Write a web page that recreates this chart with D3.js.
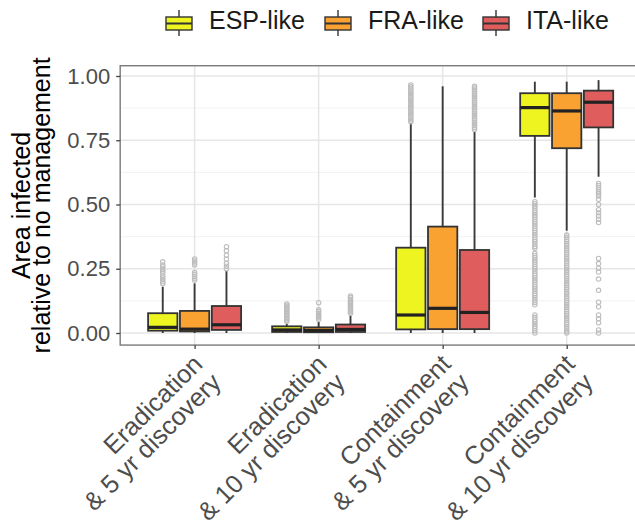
<!DOCTYPE html>
<html><head><meta charset="utf-8">
<script src="https://cdn.jsdelivr.net/npm/d3@7"></script>
<style>body{margin:0;background:#fff} text{font-family:"Liberation Sans",Arial,sans-serif}</style>
</head><body><svg id="c" width="635" height="531"></svg>
<script>
// ---------- data ----------
const categories = ["Eradication & 5 yr discovery","Eradication & 10 yr discovery","Containment & 5 yr discovery","Containment & 10 yr discovery"];
const catLine1 = ["Eradication","Eradication","Containment","Containment"];
const catLine2 = ["& 5 yr discovery","& 10 yr discovery","& 5 yr discovery","& 10 yr discovery"];
const series = ["ESP-like","FRA-like","ITA-like"];
const yTicks = [0, 0.25, 0.5, 0.75, 1];
const yMinor = [0.125, 0.375, 0.625, 0.875];

const espLow  = [0.000, 0.000, 0.000, 0.527];
const espQ1   = [0.009, 0.004, 0.014, 0.767];
const espMed  = [0.022, 0.012, 0.070, 0.877];
const espQ3   = [0.077, 0.026, 0.332, 0.933];
const espHigh = [0.180, 0.040, 0.816, 0.978];
const espOut = [
  [0.192,0.199,0.207,0.214,0.222,0.233,0.241,0.248,0.258,0.265,0.277],
  [0.045,0.051,0.056,0.062,0.068,0.073,0.079,0.085,0.091,0.097,0.102,0.108,0.113],
  [0.822,0.829,0.836,0.842,0.849,0.856,0.862,0.869,0.876,0.883,0.889,0.896,0.903,0.910,0.917,0.923,0.930,0.937,0.944,0.951,0.958,0.965],
  [0.511,0.503,0.494,0.486,0.477,0.468,0.459,0.451,0.442,0.433,0.425,0.416,0.407,0.398,0.390,0.381,0.372,0.363,0.355,0.346,0.337,0.330,
   0.310,0.302,0.293,0.284,0.276,0.267,0.258,0.250,0.241,0.232,0.224,0.215,0.206,0.198,0.189,0.180,0.172,0.163,0.154,0.146,0.137,0.128,0.119,0.110,
   0.070,0.061,0.052,0.044,0.035,0.026,0.018,0.009,0.000]
];

const fraLow  = [0.000, 0.000, 0.000, 0.398];
const fraQ1   = [0.006, 0.003, 0.015, 0.719];
const fraMed  = [0.015, 0.010, 0.096, 0.864];
const fraQ3   = [0.086, 0.022, 0.414, 0.933];
const fraHigh = [0.193, 0.045, 0.960, 0.978];
const fraOut = [
  [0.205,0.213,0.220,0.228,0.235,0.265,0.272,0.280,0.288],
  [0.053,0.059,0.065,0.071,0.077,0.084,0.090,0.118],
  [],
  [0.381,0.373,0.364,0.356,0.347,0.339,0.330,0.322,0.313,0.305,0.296,0.288,0.279,0.271,0.262,0.254,0.245,0.237,0.228,0.220,0.211,0.203,
   0.194,0.186,0.177,0.169,0.160,0.152,0.143,0.135,0.126,0.118,0.109,0.101,0.092,0.084,0.075,0.067,0.058,0.050,0.041,0.033,0.024,0.016,0.007,0.000]
];

const itaLow  = [0.000, 0.000, 0.000, 0.608];
const itaQ1   = [0.012, 0.004, 0.015, 0.800];
const itaMed  = [0.032, 0.014, 0.080, 0.898];
const itaQ3   = [0.105, 0.033, 0.323, 0.943];
const itaHigh = [0.242, 0.070, 0.786, 0.984];
const itaOut = [
  [0.250,0.260,0.271,0.287,0.303,0.320,0.336],
  [0.077,0.083,0.089,0.095,0.101,0.107,0.113,0.119,0.125,0.131,0.138,0.144],
  [0.792,0.799,0.806,0.813,0.820,0.827,0.834,0.841,0.848,0.855,0.862,0.869,0.876,0.883,0.890,0.897,0.904,0.911,0.918,0.925,0.932,0.939,0.946,0.953,0.960],
  [0.582,0.574,0.566,0.558,0.549,0.541,0.533,0.520,0.500,0.480,0.468,0.455,0.443,0.430,
   0.290,0.270,0.252,0.237,0.210,0.166,0.120,0.102,0.070,0.055,0.040,0.012,0.000]
];

const colors = ["#EEF420","#F9A131","#E05D5D"];

// ---------- build table ----------
const stats = [
  {low: espLow, q1: espQ1, med: espMed, q3: espQ3, high: espHigh, out: espOut},
  {low: fraLow, q1: fraQ1, med: fraMed, q3: fraQ3, high: fraHigh, out: fraOut},
  {low: itaLow, q1: itaQ1, med: itaMed, q3: itaQ3, high: itaHigh, out: itaOut}
];
const boxes = [];
series.forEach((s, si) => categories.forEach((c, ci) => {
  const st = stats[si];
  boxes.push({s, si, c, ci, low: st.low[ci], q1: st.q1[ci], med: st.med[ci], q3: st.q3[ci], high: st.high[ci], out: st.out[ci]});
}));

// ---------- layout ----------
const svg = d3.select("#c");
const y = d3.scaleLinear().domain([0, 1]).range([333, 76]);
const x = d3.scalePoint().domain(categories).range([194.6, 566.7]);
const step = x.step();
const xs = d3.scaleBand().domain(series).range([-0.375 * step, 0.375 * step]).paddingInner(0.08);
const panel = {left: x(categories[0]) - 0.6 * step, right: x(categories[3]) + 0.6 * step, top: y(1.04), bottom: y(-0.047)};

// gridlines
const g = svg.append("g");
g.selectAll("line.minor").data(yMinor).join("line")
  .attr("x1", panel.left).attr("x2", panel.right).attr("y1", d => y(d)).attr("y2", d => y(d))
  .attr("stroke", "#F2F2F2").attr("stroke-width", 1);
g.selectAll("line.major").data(yTicks).join("line")
  .attr("x1", panel.left).attr("x2", panel.right).attr("y1", d => y(d)).attr("y2", d => y(d))
  .attr("stroke", "#E6E6E6").attr("stroke-width", 1.5);
g.selectAll("line.vmaj").data(categories).join("line")
  .attr("x1", d => x(d)).attr("x2", d => x(d)).attr("y1", panel.top).attr("y2", panel.bottom)
  .attr("stroke", "#E6E6E6").attr("stroke-width", 1.5);

// boxes
const bw = xs.bandwidth();
const bg = svg.append("g").selectAll("g").data(boxes).join("g")
  .attr("transform", d => `translate(${x(d.c) + xs(d.s) + bw / 2},0)`);
bg.append("line").attr("x1", 0).attr("x2", 0).attr("y1", d => y(d.q3)).attr("y2", d => y(d.high))
  .attr("stroke", "#3a3a3a").attr("stroke-width", 1.9);
bg.append("line").attr("x1", 0).attr("x2", 0).attr("y1", d => y(d.q1)).attr("y2", d => y(d.low))
  .attr("stroke", "#3a3a3a").attr("stroke-width", 1.9);
bg.selectAll("circle").data(d => d.out).join("circle")
  .attr("cx", 0).attr("cy", d => y(d)).attr("r", 2.2)
  .attr("fill", "none").attr("stroke", "#BDBDBD").attr("stroke-width", 1.1);
bg.append("rect").attr("x", -bw / 2).attr("width", bw)
  .attr("y", d => y(d.q3)).attr("height", d => y(d.q1) - y(d.q3))
  .attr("fill", d => colors[d.si]).attr("stroke", "#333").attr("stroke-width", 1.8);
bg.append("line").attr("x1", -bw / 2).attr("x2", bw / 2).attr("y1", d => y(d.med)).attr("y2", d => y(d.med))
  .attr("stroke", "#222").attr("stroke-width", 3.2);

// panel border
svg.append("rect").attr("x", panel.left).attr("y", panel.top)
  .attr("width", panel.right - panel.left).attr("height", panel.bottom - panel.top)
  .attr("fill", "none").attr("stroke", "#7a7a7a").attr("stroke-width", 1.4);

// y axis
const ya = svg.append("g").attr("transform", `translate(${panel.left},0)`)
  .call(d3.axisLeft(y).tickValues(yTicks).tickFormat(d3.format(".2f")).tickSize(4).tickPadding(6));
ya.select(".domain").remove();
ya.selectAll(".tick line").attr("stroke", "#444").attr("stroke-width", 1.3);
ya.selectAll(".tick text").attr("fill", "#4D4D4D").style("font-size", "22px")
  .style("font-family", "'Liberation Sans', Arial, sans-serif");

// x axis
const xa = svg.append("g").attr("transform", `translate(0,${panel.bottom})`)
  .call(d3.axisBottom(x).tickSize(4).tickFormat(""));
xa.select(".domain").remove();
xa.selectAll(".tick line").attr("stroke", "#444").attr("stroke-width", 1.3);
const xl = svg.append("g").selectAll("text").data(categories).join("text")
  .attr("transform", d => `translate(${x(d) - 4},${panel.bottom + 7}) rotate(-45)`)
  .attr("text-anchor", "end").attr("fill", "#4D4D4D").style("font-size", "25.5px");
xl.append("tspan").attr("x", 0).attr("dy", "0.75em").text((d, i) => catLine1[i]);
xl.append("tspan").attr("x", 0).attr("dy", "1.02em").text((d, i) => catLine2[i]);

// y title
const yt = svg.append("text").attr("transform", `translate(0,${(panel.top + panel.bottom) / 2}) rotate(-90)`)
  .attr("text-anchor", "middle").attr("fill", "#000").style("font-size", "25px");
yt.append("tspan").attr("x", 0).attr("y", 30).text("Area infected");
yt.append("tspan").attr("x", 0).attr("y", 50).text("relative to no management");

// legend
const legX = [166, 325, 483];
const lg = svg.append("g").selectAll("g").data(series).join("g")
  .attr("transform", (d, i) => `translate(${legX[i]},0)`);
lg.append("line").attr("x1", 13).attr("x2", 13).attr("y1", 10).attr("y2", 36)
  .attr("stroke", "#404040").attr("stroke-width", 1.5);
lg.append("rect").attr("x", 0).attr("y", 17).attr("width", 26).attr("height", 13)
  .attr("fill", (d, i) => colors[i]).attr("stroke", "#333").attr("stroke-width", 1.4);
lg.append("line").attr("x1", 0).attr("x2", 26).attr("y1", 23.5).attr("y2", 23.5)
  .attr("stroke", "#333").attr("stroke-width", 2);
lg.append("text").attr("x", 43).attr("y", 29).text(d => d)
  .attr("fill", "#1a1a1a").style("font-size", "25px");
</script></body></html>
